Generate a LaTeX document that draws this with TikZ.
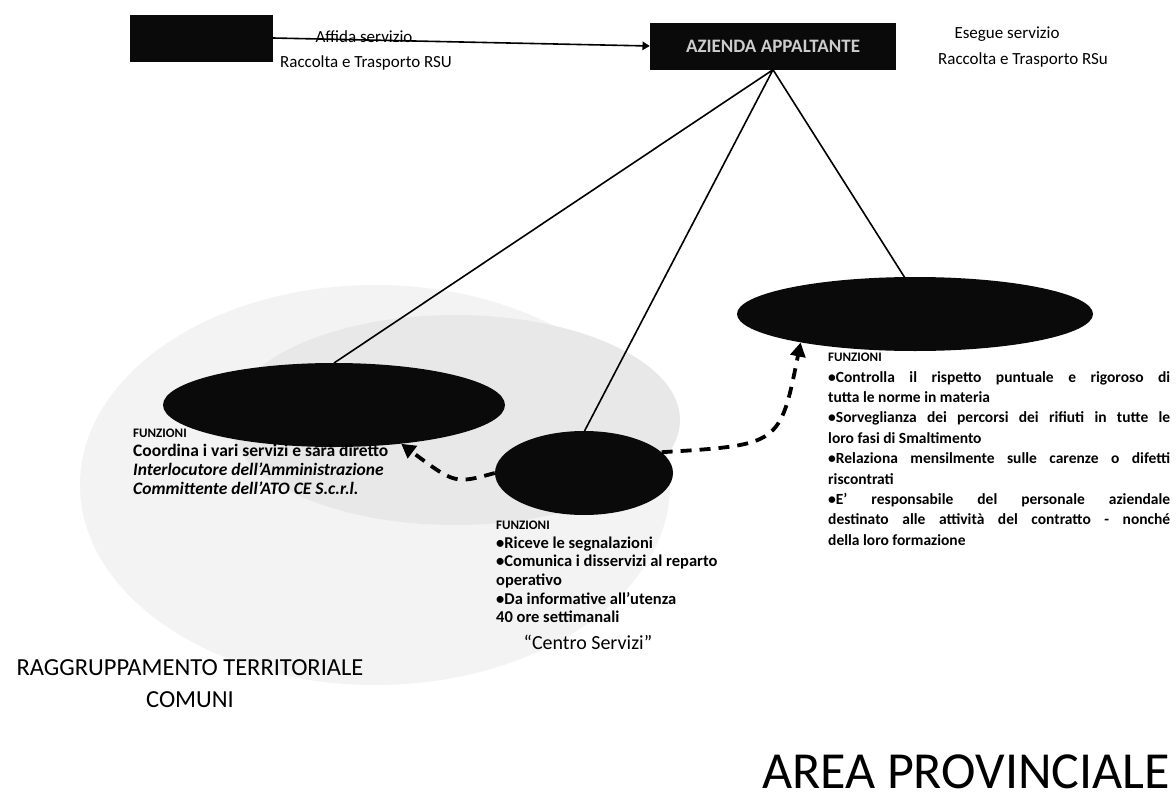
\documentclass[tikz,border=0pt]{standalone}
\usepackage{fontspec}
\setmainfont{Carlito}
\usepackage{tikz}
\usetikzlibrary{arrows.meta,shapes.geometric}
\definecolor{ink}{HTML}{0A0A0A}
\definecolor{speck}{HTML}{F3F3F3}
\definecolor{speckdk}{HTML}{E8E8E8}
\tikzset{dia/.style={x=1pt,y=-1pt,line join=round,>=Triangle},
  blkbox/.style={fill=ink,inner sep=0pt,text=white!80!black,font=\fontsize{19}{21}\selectfont\bfseries},
  blkoval/.style={ellipse,fill=ink,inner sep=0pt},
  funz/.style={anchor=north west,align=left,inner sep=0pt,font=\fontsize{16.5}{18.6}\selectfont\bfseries},
  captxt/.style={inner sep=0pt,font=\fontsize{17}{19}\selectfont},
  linkdash/.style={line width=3.8pt,dash pattern=on 11pt off 8pt,-{Triangle[length=14pt,width=15pt]}}}
\newcommand{\jl}[1]{\makebox[342pt][s]{#1}}
\newcommand{\fz}{{\fontsize{13}{18}\selectfont FUNZIONI}}

\begin{document}
\begin{tikzpicture}[dia]
  \fill[white](0,0)rectangle(1176,803);\useasboundingbox(0,0)rectangle(1176,803);
  \fill[speck](375,485)ellipse[x radius=295,y radius=200];
  \fill[speckdk](455,420)ellipse[x radius=225,y radius=105];
  \node[blkbox,minimum width=143pt,minimum height=47pt](lbox)at(201,38){};
  \node[blkbox,minimum width=246pt,minimum height=47pt](rbox)at(773,46){AZIENDA APPALTANTE};
  \draw[line width=1.6pt,->](lbox.east)--(rbox.west);
  \node[captxt,anchor=south](affida)at(364,43){Affida servizio};
  \node[captxt](racc1)at(366,63){Raccolta e Trasporto RSU};
  \node[captxt](esegue)at(1007,34){Esegue servizio};
  \node[captxt](racc2)at(1023,60){Raccolta e Trasporto RSu};
  \draw[line width=1.6pt](rbox.south)--(334,363) (rbox.south)--(584,432) (rbox.south)--(905,278);
  \node[blkoval,minimum width=342pt,minimum height=84pt](lov)at(334,405){};
  \node[blkoval,minimum width=178pt,minimum height=84pt](cov)at(584,473){};
  \node[blkoval,minimum width=356pt,minimum height=74pt](rov)at(915,314){};
  \draw[linkdash](cov.west)..controls(455,484)..(lov.-30);
  \draw[linkdash](cov.15)..controls(780,445)..(rov.194);
  \node[funz,font=\fontsize{17.5}{19}\selectfont\bfseries](lfun)at(133,429){\fz\\Coordina i vari servizi e sarà diretto\\
   \textit{Interlocutore dell'Amministrazione}\\\textit{Committente dell'ATO CE S.c.r.l.}};
  \node[funz](cfun)at(496,521){\fz\\•Riceve le segnalazioni\\•Comunica i disservizi al reparto\\operativo\\
   •Da informative all'utenza\\40 ore settimanali};
  \node[captxt,font=\fontsize{20}{22}\selectfont](centro)at(588,642){“Centro Servizi”};
  \node[funz,font=\fontsize{15.5}{20.4}\selectfont\bfseries](rfun)at(828,353){\fz\\\jl{•Controlla il rispetto puntuale e rigoroso di}\\
   tutta le norme in materia\\\jl{•Sorveglianza dei percorsi dei rifiuti in tutte le}\\loro fasi di Smaltimento\\
   \jl{•Relaziona mensilmente sulle carenze o difetti}\\riscontrati\\\jl{•E' responsabile del personale aziendale}\\
   \jl{destinato alle attività del contratto - nonché}\\della loro formazione};
  \node[captxt,font=\fontsize{24.5}{27}\selectfont](ragg)at(190,668){RAGGRUPPAMENTO TERRITORIALE};
  \node[captxt,font=\fontsize{24.5}{27}\selectfont](comuni)at(190,700){COMUNI};
  \node[captxt,anchor=east,font=\fontsize{52}{56}\selectfont](area)at(1170,772){AREA PROVINCIALE};
\end{tikzpicture}
\end{document}
